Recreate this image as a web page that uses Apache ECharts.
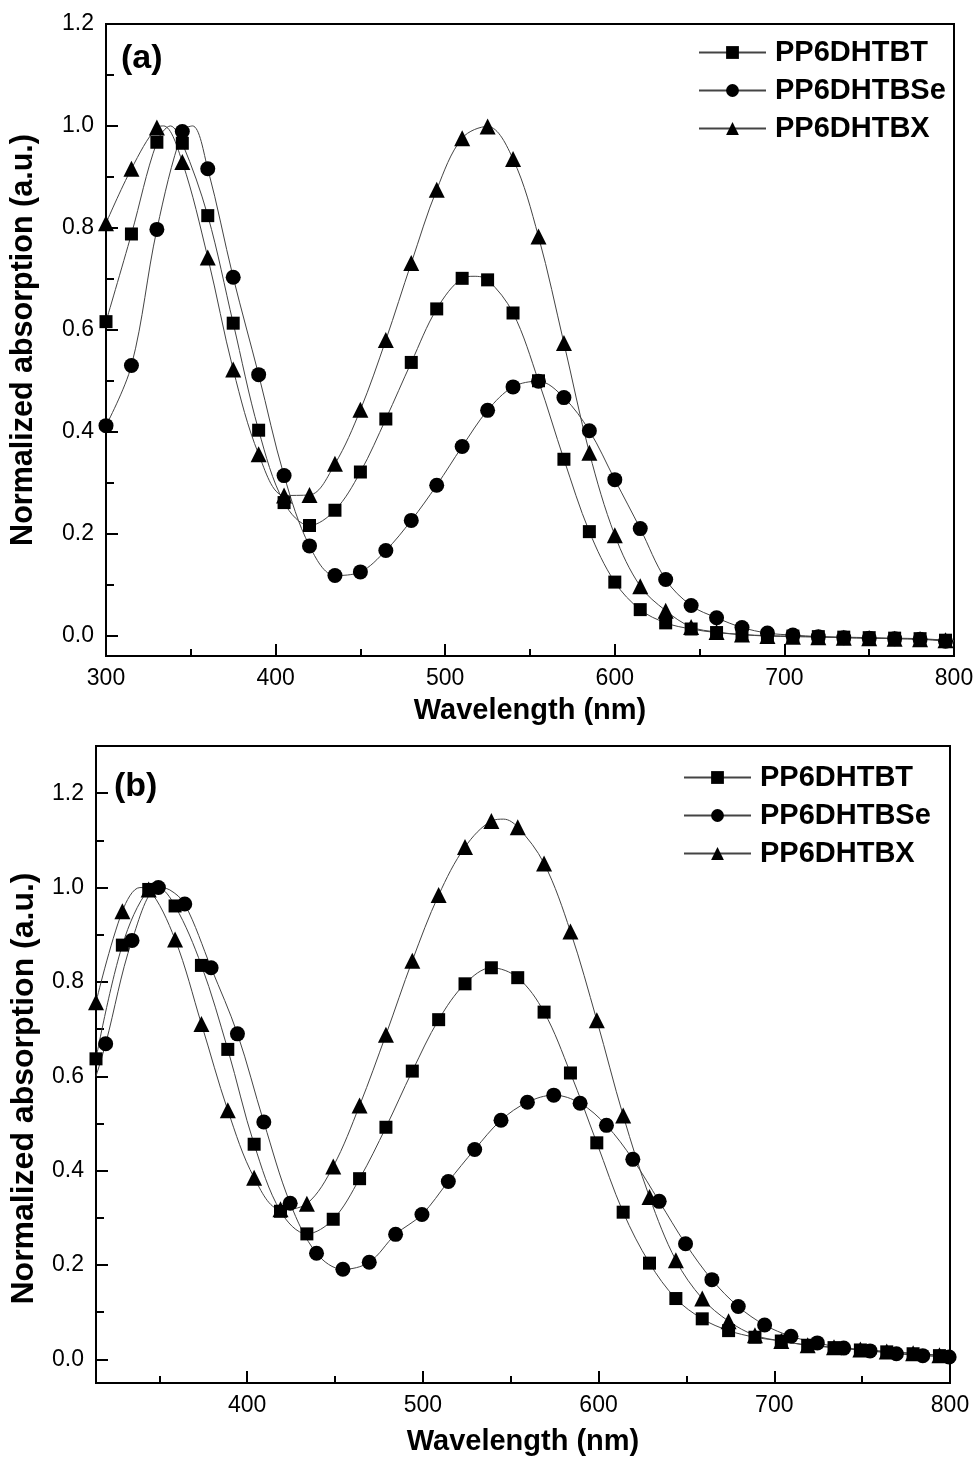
<!DOCTYPE html>
<html>
<head>
<meta charset="utf-8">
<script src="https://cdn.jsdelivr.net/npm/echarts@6/dist/echarts.min.js"></script>
<style>
  html, body { margin: 0; padding: 0; background: #fff; }
  #chart { width: 977px; height: 1461px; }
</style>
</head>
<body>
<div id="chart"></div>
<script>
// panel (a): markers every 15 nm
const wlA = [300, 315, 330, 345, 360, 375, 390, 405, 420, 435, 450, 465, 480, 495, 510, 525, 540,
  555, 570, 585, 600, 615, 630, 645, 660, 675, 690, 705, 720, 735, 750, 765, 780, 795];
const btA = [0.616, 0.788, 0.968, 0.966, 0.824, 0.613, 0.403, 0.261, 0.216, 0.246, 0.321, 0.425, 0.536,
  0.641, 0.701, 0.698, 0.633, 0.500, 0.346, 0.204, 0.105, 0.051, 0.025, 0.013, 0.006, 0.002, 0.000,
  -0.001, -0.002, -0.003, -0.004, -0.005, -0.006, -0.009];
const seA = [0.412, 0.530, 0.797, 0.989, 0.916, 0.703, 0.512, 0.314, 0.176, 0.118, 0.125, 0.167, 0.226,
  0.295, 0.371, 0.442, 0.488, 0.499, 0.467, 0.402, 0.306, 0.210, 0.110, 0.059, 0.035, 0.016, 0.005,
  0.001, -0.002, -0.004, -0.005, -0.006, -0.007, -0.011];
const bxA = [0.809, 0.916, 0.997, 0.929, 0.742, 0.522, 0.356, 0.275, 0.276, 0.337, 0.443, 0.580, 0.731,
  0.875, 0.976, 0.999, 0.935, 0.783, 0.574, 0.359, 0.197, 0.097, 0.049, 0.017, 0.007, 0.002, -0.001,
  -0.002, -0.003, -0.004, -0.005, -0.006, -0.007, -0.009];
// points read off the curve between markers (no symbol)
const btCurveA = [[338, 1.0], [517, 0.705], [800, -0.010]];
const seCurveA = [[351, 1.0], [800, -0.012]];
const bxCurveA = [[334, 1.0], [800, -0.010]];

// panel (b): squares / triangles and circles sit on different wavelengths
const wlB = [314, 329, 344, 359, 374, 389, 404, 419, 434, 449, 464, 479, 494, 509, 524, 539, 554,
  569, 584, 599, 614, 629, 644, 659, 674, 689, 704, 719, 734, 749, 764, 779, 794];
const wlBse = [319.5, 334.5, 349.5, 364.5, 379.5, 394.5, 409.5, 424.5, 439.5, 454.5, 469.5, 484.5,
  499.5, 514.5, 529.5, 544.5, 559.5, 574.5, 589.5, 604.5, 619.5, 634.5, 649.5, 664.5, 679.5, 694.5,
  709.5, 724.5, 739.5, 754.5, 769.5, 784.5, 799.5];
const btB = [0.637, 0.878, 0.996, 0.961, 0.835, 0.657, 0.456, 0.314, 0.266, 0.297, 0.383, 0.492, 0.611,
  0.720, 0.796, 0.830, 0.809, 0.736, 0.607, 0.459, 0.312, 0.204, 0.129, 0.086, 0.061, 0.047, 0.039,
  0.030, 0.025, 0.020, 0.016, 0.012, 0.008];
const seB = [0.669, 0.888, 1.000, 0.965, 0.830, 0.690, 0.503, 0.331, 0.225, 0.191, 0.206, 0.265, 0.307,
  0.377, 0.445, 0.507, 0.545, 0.560, 0.543, 0.496, 0.424, 0.335, 0.245, 0.169, 0.112, 0.073, 0.049,
  0.035, 0.024, 0.018, 0.012, 0.008, 0.005];
const bxB = [0.757, 0.950, 0.996, 0.890, 0.711, 0.528, 0.385, 0.318, 0.330, 0.409, 0.538, 0.688, 0.845,
  0.984, 1.086, 1.141, 1.128, 1.051, 0.907, 0.719, 0.517, 0.344, 0.210, 0.129, 0.081, 0.051, 0.039,
  0.030, 0.026, 0.021, 0.017, 0.013, 0.009];
const btCurveB = [[349, 1.0], [800, 0.007]];
const seCurveB = [[314, 0.60], [356, 0.995]];
const bxCurveB = [[339, 1.0], [546, 1.145], [800, 0.008]];

const names = ['PP6DHTBT', 'PP6DHTBSe', 'PP6DHTBX'];
const FONT = '"Liberation Sans", Arial, sans-serif';

function buildLine(wl, vals, extra) {
  const pts = wl.map((x, i) => ({ value: [x, vals[i]] }));
  extra.forEach(p => pts.push({ value: p, symbol: 'none' }));
  pts.sort((a, b) => a.value[0] - b.value[0]);
  return pts;
}

const symbols = [['rect', 13], ['circle', 15], ['triangle', 16]];

function makeSeries(panel, data) {
  return data.map((d, i) => ({
    name: names[i],
    type: 'line',
    xAxisIndex: panel * 2,
    yAxisIndex: panel * 2,
    data: d,
    smooth: 0.35,
    symbol: symbols[i][0],
    symbolSize: symbols[i][1],
    showAllSymbol: true,
    itemStyle: { color: '#000' },
    lineStyle: { color: '#444', width: 1 },
    emphasis: { disabled: true },
    clip: true
  }));
}

function xAxes(gridIndex, min, nameGap) {
  return [{
    gridIndex, type: 'value', position: 'bottom', min, max: 800, splitNumber: 5,
    axisLine: { show: false, onZero: false },
    axisTick: { inside: true, length: 12, lineStyle: { color: '#000', width: 2 } },
    axisLabel: { fontSize: 23, color: '#000', fontFamily: FONT, margin: 11,
      formatter: v => (v % 100 === 0 ? String(v) : '') },
    splitLine: { show: false },
    name: 'Wavelength (nm)', nameLocation: 'middle', nameGap,
    nameTextStyle: { fontSize: 29, fontWeight: 'bold', color: '#000', fontFamily: FONT }
  }, {
    gridIndex, type: 'value', position: 'bottom', min, max: 800, splitNumber: 10,
    axisLine: { show: false, onZero: false },
    axisTick: { inside: true, length: 7, lineStyle: { color: '#000', width: 2 } },
    axisLabel: { show: false },
    splitLine: { show: false }
  }];
}

function yAxes(gridIndex, min, max, nameGap, nameSize, namePad) {
  return [{
    gridIndex, type: 'value', position: 'left', min, max, splitNumber: 6,
    axisLine: { show: false, onZero: false },
    axisTick: { inside: true, length: 12, lineStyle: { color: '#000', width: 2 } },
    axisLabel: { fontSize: 23, color: '#000', fontFamily: FONT, margin: 12,
      formatter: v => {
        const k = v * 5;
        return Math.abs(k - Math.round(k)) < 1e-6 && v > -1e-6 && v < 1.2 + 1e-6 ? v.toFixed(1) : '';
      } },
    splitLine: { show: false },
    name: 'Normalized absorption (a.u.)', nameLocation: 'middle', nameGap,
    nameTextStyle: { fontSize: nameSize, fontWeight: 'bold', color: '#000', fontFamily: FONT, padding: namePad }
  }, {
    gridIndex, type: 'value', position: 'left', min, max, splitNumber: 12,
    axisLine: { show: false, onZero: false },
    axisTick: { inside: true, length: 8, lineStyle: { color: '#000', width: 2 } },
    axisLabel: { show: false },
    splitLine: { show: false }
  }];
}

function legendAt(left, top) {
  return {
    left, top, orient: 'vertical', padding: 0, itemWidth: 67, itemHeight: 16, itemGap: 9,
    selectedMode: false,
    textStyle: { fontSize: 29, fontWeight: 'bold', color: '#000', fontFamily: FONT, padding: [0, 0, 0, 4] },
    data: names
  };
}

const chart = echarts.init(document.getElementById('chart'), null, { renderer: 'canvas' });
chart.setOption({
  animation: false,
  backgroundColor: '#fff',
  grid: [
    { left: 105, top: 24, width: 849, height: 632, show: true, borderColor: '#000', borderWidth: 2, backgroundColor: 'transparent' },
    { left: 93, top: 746, width: 857, height: 637, show: true, borderColor: '#000', borderWidth: 2, backgroundColor: 'transparent' }
  ],
  xAxis: [...xAxes(0, 300, 40), ...xAxes(1, 314, 44)],
  yAxis: [...yAxes(0, -0.04, 1.2, 67, 30.5, 0), ...yAxes(1, -0.05, 1.3, 56, 32, [0, 48, 0, 0])],
  legend: [legendAt(698, 38), legendAt(683, 763)],
  graphic: [
    { type: 'text', left: 121, top: 42, style: { text: '(a)', font: 'bold 34px ' + FONT, fill: '#000' } },
    { type: 'text', left: 114, top: 770, style: { text: '(b)', font: 'bold 34px ' + FONT, fill: '#000' } }
  ],
  series: [
    ...makeSeries(0, [buildLine(wlA, btA, btCurveA), buildLine(wlA, seA, seCurveA), buildLine(wlA, bxA, bxCurveA)]),
    ...makeSeries(1, [buildLine(wlB, btB, btCurveB), buildLine(wlBse, seB, seCurveB), buildLine(wlB, bxB, bxCurveB)])
  ]
});
</script>
</body>
</html>
